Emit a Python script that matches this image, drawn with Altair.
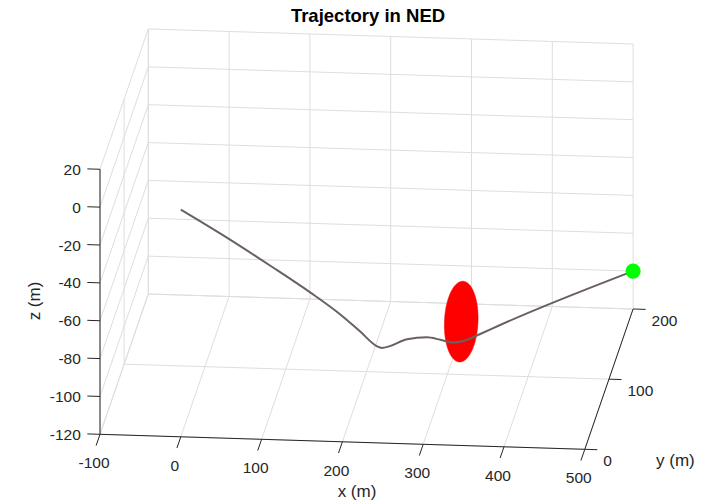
import numpy as np
import pandas as pd
import altair as alt

# ---- trajectory in NED coordinates (metres) ----
traj_x = [0, 54, 99, 143, 176, 198, 217, 222, 231, 250, 272, 287, 301, 316, 331, 353, 500]
traj_y = [0, 21.6, 39.6, 57.2, 70.4, 79.2, 86.8, 88.8, 92.4, 100, 108.8, 114.8, 120.4, 126.4, 132.4, 141.2, 200]
traj_z = [0, -23, -43, -63, -79, -91, -101.5, -103, -103.3, -102.2, -104.2, -107.5, -110.8, -111.5, -110.4, -108.6, -100]

# gate sphere and goal point
gate_center = [310, 124, -101]
gate_radius = 20
goal = [500, 200, -100]

# axis limits and ticks
x_lim = [-100, 500]
y_lim = [0, 200]
z_lim = [-120, 20]
x_ticks = [-100, 0, 100, 200, 300, 400, 500]
y_ticks = [0, 100, 200]
z_ticks = [-120, -100, -80, -60, -40, -20, 0, 20]

# ---- fixed orthographic camera: pixels per metre along each axis ----
W, H = 718, 504
ORIGIN = np.array([100.0, 434.3])          # screen position of (x_min, y_min, z_min)
EX = np.array([0.808, 0.025])
EY = np.array([0.2415, -0.7015])
EZ = np.array([0.0, -1.893])
P = np.column_stack([EX, EY, EZ])


def project(x, y, z):
    v = np.array([x - x_lim[0], y - y_lim[0], z - z_lim[0]], dtype=float)
    return ORIGIN + P @ v


def segments(pairs):
    rows = []
    for a, b in pairs:
        p1, p2 = project(*a), project(*b)
        rows.append({"px": p1[0], "py": p1[1], "px2": p2[0], "py2": p2[1]})
    return pd.DataFrame(rows)


X0, X1 = x_lim
Y0, Y1 = y_lim
Z0, Z1 = z_lim

# grid on the floor, the back wall and the left wall
grid_pairs = []
for xt in x_ticks:
    grid_pairs.append(((xt, Y0, Z0), (xt, Y1, Z0)))
    grid_pairs.append(((xt, Y1, Z0), (xt, Y1, Z1)))
for yt in y_ticks:
    grid_pairs.append(((X0, yt, Z0), (X1, yt, Z0)))
    grid_pairs.append(((X0, yt, Z0), (X0, yt, Z1)))
for zt in z_ticks:
    grid_pairs.append(((X0, Y1, zt), (X1, Y1, zt)))
    grid_pairs.append(((X0, Y0, zt), (X0, Y1, zt)))
grid_df = segments(grid_pairs)

axis_pairs = [
    ((X0, Y0, Z0), (X0, Y0, Z1)),
    ((X0, Y0, Z0), (X1, Y0, Z0)),
    ((X1, Y0, Z0), (X1, Y1, Z0)),
]
tick_pairs = (
    [((X0, Y0, zt), (X0 - 15.7, Y0, zt)) for zt in z_ticks]
    + [((xt, Y0, Z0), (xt, Y0 - 16, Z0)) for xt in x_ticks]
    + [((X1, yt, Z0), (X1 + 15.5, yt, Z0)) for yt in y_ticks]
)
axis_df = pd.concat([segments(axis_pairs), segments(tick_pairs)], ignore_index=True)


def labels(points, values):
    rows = []
    for p, v in zip(points, values):
        q = project(*p)
        rows.append({"px": q[0], "py": q[1], "text": str(v)})
    return pd.DataFrame(rows)


zlab_df = labels([(X0 - 15.7, Y0, zt) for zt in z_ticks], z_ticks)
xlab_df = labels([(xt, Y0, Z0) for xt in x_ticks], x_ticks)
ylab_df = labels([(X1, yt, Z0) for yt in y_ticks], y_ticks)

# trajectory
tp = np.array([project(a, b, c) for a, b, c in zip(traj_x, traj_y, traj_z)])
traj_df = pd.DataFrame({"px": tp[:, 0], "py": tp[:, 1], "i": np.arange(len(tp))})

# silhouette of the gate sphere under the camera
M = P @ P.T
evals, evecs = np.linalg.eigh(M)
S = evecs @ np.diag(np.sqrt(evals)) @ evecs.T
t = np.linspace(0, 2 * np.pi, 145)
c = project(*gate_center)
ring = c[:, None] + gate_radius * (S @ np.vstack([np.cos(t), np.sin(t)]))
gate_df = pd.DataFrame({"px": ring[0], "py": ring[1], "i": np.arange(len(t))})

g = project(*goal)
goal_df = pd.DataFrame({"px": [g[0]], "py": [g[1]]})

# ---- chart ----
FONT = "Liberation Sans"
INK = "#262626"
xs = alt.Scale(domain=[0, W], range=[0, W], nice=False, zero=False)
ys = alt.Scale(domain=[0, H], range=[0, H], nice=False, zero=False)
X = alt.X("px:Q", scale=xs, axis=None)
Y = alt.Y("py:Q", scale=ys, axis=None)

grid = alt.Chart(grid_df).mark_rule(color="#dedede", strokeWidth=1).encode(
    x=X, y=Y, x2="px2:Q", y2="py2:Q")
axes = alt.Chart(axis_df).mark_rule(color=INK, strokeWidth=1).encode(
    x=X, y=Y, x2="px2:Q", y2="py2:Q")

zlab = alt.Chart(zlab_df).mark_text(align="right", baseline="middle", dx=-6.5, dy=1,
                                    font=FONT, fontSize=15.5, color=INK).encode(x=X, y=Y, text="text:N")
xlab = alt.Chart(xlab_df).mark_text(align="center", baseline="middle", dx=-6, dy=29,
                                    font=FONT, fontSize=15.5, color=INK).encode(x=X, y=Y, text="text:N")
ylab = alt.Chart(ylab_df).mark_text(align="left", baseline="middle", dx=18.5, dy=11.5,
                                    font=FONT, fontSize=15.5, color=INK).encode(x=X, y=Y, text="text:N")

gate = alt.Chart(gate_df).mark_line(filled=True, fill="#ff0000", stroke="#ff0000", strokeWidth=0.5).encode(
    x=X, y=Y, order="i:Q")
path = alt.Chart(traj_df).mark_line(color="#6a6060", strokeWidth=2, interpolate="monotone").encode(
    x=X, y=Y, order="i:Q")
goal_pt = alt.Chart(goal_df).mark_point(filled=True, color="#00ff00", opacity=1, size=230).encode(x=X, y=Y)

one = pd.DataFrame({"k": [0]})
title = alt.Chart(one).mark_text(text="Trajectory in NED", font=FONT, fontSize=18.5, fontWeight="bold",
                                 color="#000000", align="center", baseline="middle").encode(
    x=alt.value(368), y=alt.value(16))
xtitle = alt.Chart(one).mark_text(text="x (m)", font=FONT, fontSize=17, color=INK,
                                  align="center", baseline="middle").encode(x=alt.value(357), y=alt.value(492))
ytitle = alt.Chart(one).mark_text(text="y (m)", font=FONT, fontSize=17, color=INK,
                                  align="left", baseline="middle").encode(x=alt.value(656), y=alt.value(461))
ztitle = alt.Chart(one).mark_text(text="z (m)", font=FONT, fontSize=17, color=INK, angle=270,
                                  align="center", baseline="middle").encode(x=alt.value(35), y=alt.value(301))

chart = alt.layer(
    grid, axes, zlab, xlab, ylab, gate, path, goal_pt, title, xtitle, ytitle, ztitle
).properties(
    width=W, height=H, autosize=alt.AutoSizeParams(type="none"), padding=0, background="white"
).configure_view(stroke=None)

chart.save("out.html", embed_options={"renderer": "svg", "actions": False})
